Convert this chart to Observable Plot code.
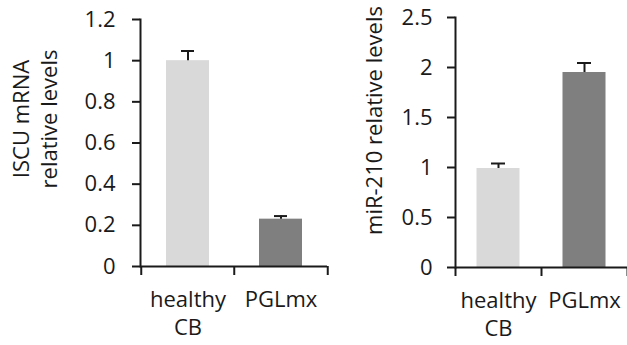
<!DOCTYPE html>
<html>
<head>
<meta charset="utf-8">
<script src="https://cdn.jsdelivr.net/npm/d3@7"></script>
<script src="https://cdn.jsdelivr.net/npm/@observablehq/plot@0.6"></script>
<style>
  html, body { margin: 0; padding: 0; background: #fff; }
  #wrap { position: relative; width: 627px; height: 345px; overflow: hidden; background: #fff; }
  #left, #right { position: absolute; top: 0; }
  #left { left: 0; }
  #right { left: 310px; }
</style>
</head>
<body>
<div id="wrap"><div id="left"></div><div id="right"></div></div>
<script>
// ---- data ----
const categories = ["healthy\nCB", "PGLmx"];
const iscuValues = [1.0, 0.23];
const iscuErrors = [0.047, 0.015];
const mirValues = [0.99, 1.95];
const mirErrors = [0.05, 0.095];
const iscuTicks = [0, 0.2, 0.4, 0.6, 0.8, 1, 1.2];
const mirTicks = [0, 0.5, 1, 1.5, 2, 2.5];
const iscuTitle = "ISCU mRNA\nrelative levels";
const mirTitle = "miR-210 relative levels";

// ---- styles ----
const barColors = ["#d9d9d9", "#7f7f7f"];
const ink = "#1a1a1a";
const font = "Open Sans";
const fs = 22;

const fmt = d => String(+d.toFixed(1));

function chart({values, errors, ticks, title, width, height, mL, mR, mT, mB, barInset, capInset, titleDx, titleDy, tickPad}) {
  const rows = categories.map((c, i) => ({cat: c, value: values[i], upper: values[i] + errors[i]}));
  const bw = (width - mL - mR) / categories.length;
  return Plot.plot({
    width, height,
    marginLeft: mL, marginRight: mR, marginTop: mT, marginBottom: mB,
    style: {fontFamily: font, fontSize: fs + "px", color: ink, background: "transparent", overflow: "visible"},
    x: {domain: categories, padding: 0, axis: null},
    y: {domain: [ticks[0], ticks[ticks.length - 1]], axis: null},
    color: {domain: categories, range: barColors},
    marks: [
      Plot.barY(rows, {x: "cat", y: "value", fill: "cat", insetLeft: barInset, insetRight: barInset}),
      Plot.ruleX(rows, {x: "cat", y1: "value", y2: "upper", stroke: ink, strokeWidth: 2}),
      Plot.tickY(rows, {x: "cat", y: "upper", stroke: ink, strokeWidth: 2, insetLeft: capInset, insetRight: capInset}),
      Plot.axisY({ticks, tickSize: 8, tickPadding: tickPad, tickFormat: fmt, fontSize: fs, stroke: ink, strokeWidth: 2, fill: ink, label: null}),
      Plot.frame({anchor: "left", stroke: ink, strokeWidth: 2}),
      Plot.ruleY([0], {stroke: ink, strokeWidth: 2}),
      Plot.ruleX(categories, {x: d => d, y1: 0, y2: 0, insetBottom: -9, dx: -bw / 2, stroke: ink, strokeWidth: 2}),
      Plot.ruleX([categories[categories.length - 1]], {x: d => d, y1: 0, y2: 0, insetBottom: -9, dx: bw / 2, stroke: ink, strokeWidth: 2}),
      Plot.text(categories, {x: d => d, frameAnchor: "bottom", lineAnchor: "top", dy: 21, lineHeight: 28 / fs, fontSize: fs, fill: ink}),
      Plot.text([title], {frameAnchor: "left", textAnchor: "middle", rotate: -90, dx: titleDx, dy: titleDy, lineHeight: 28 / fs, fontSize: fs, fill: ink})
    ]
  });
}

document.getElementById("left").append(chart({
  values: iscuValues, errors: iscuErrors, ticks: iscuTicks, title: iscuTitle,
  width: 335, height: 345, mL: 140, mR: 8, mT: 19, mB: 79,
  barInset: 25, capInset: 40, titleDx: -106, titleDy: -24, tickPad: 17
}));
document.getElementById("right").append(chart({
  values: mirValues, errors: mirErrors, ticks: mirTicks, title: mirTitle,
  width: 317, height: 345, mL: 145, mR: 0, mT: 17, mB: 78,
  barInset: 21.5, capInset: 36, titleDx: -82, titleDy: -22, tickPad: 15
}));
</script>
</body>
</html>
